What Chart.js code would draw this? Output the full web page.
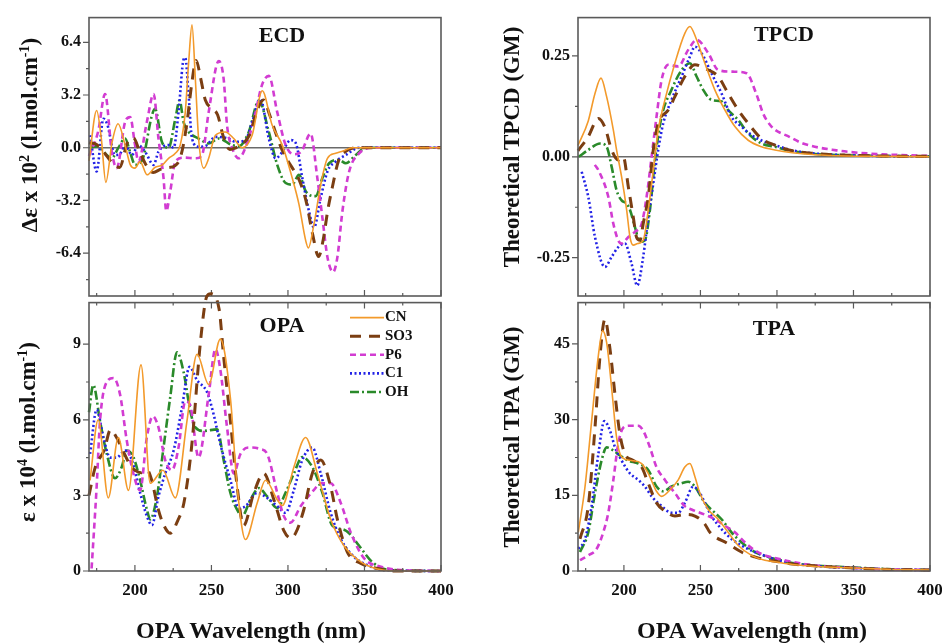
<!DOCTYPE html>
<html>
<head>
<meta charset="utf-8">
<script src="https://cdn.jsdelivr.net/npm/chart.js@4.4.0/dist/chart.umd.min.js"></script>
<style>
  body { margin: 0; background: #fff; width: 942px; height: 643px; position: relative; overflow: hidden; font-family: "Liberation Serif", "Times New Roman", serif; }
  canvas { position: absolute; }
  .t { position: absolute; font-weight: bold; white-space: nowrap; color: #111; transform: translate(-50%, -50%); }
  .yt { position: absolute; font-weight: bold; white-space: nowrap; color: #111; font-size: 23px; transform: translate(-50%, -50%) rotate(-90deg); }
  .yt sup { font-size: 14px; }
</style>
</head>
<body>
<canvas id="ecdChart" width="450" height="330" style="left:0;top:0"></canvas>
<canvas id="tpcdChart" width="500" height="330" style="left:470px;top:0"></canvas>
<canvas id="opaChart" width="470" height="358" style="left:0;top:285px"></canvas>
<canvas id="tpaChart" width="500" height="358" style="left:470px;top:285px"></canvas>

<div class="t" style="left:282px;top:35px;font-size:22px">ECD</div>
<div class="t" style="left:784px;top:34px;font-size:22px">TPCD</div>
<div class="t" style="left:282px;top:325px;font-size:22px">OPA</div>
<div class="t" style="left:774px;top:328px;font-size:22px">TPA</div>
<div class="yt" style="left:30px;top:135px">Δε x 10<sup>2</sup> (l.mol.cm<sup>-1</sup>)</div>
<div class="yt" style="left:28px;top:432px">ε x 10<sup>4</sup> (l.mol.cm<sup>-1</sup>)</div>
<div class="yt" style="left:512px;top:147px">Theoretical TPCD (GM)</div>
<div class="yt" style="left:512px;top:437px">Theoretical TPA (GM)</div>
<div class="t" style="left:251px;top:630px;font-size:24px">OPA Wavelength (nm)</div>
<div class="t" style="left:752px;top:630px;font-size:24px">OPA Wavelength (nm)</div>

<script>
// series names
const seriesNames = ["CN", "SO3", "P6", "C1", "OH"];

// x axis ticks (nm)
const xTickValues = [200, 250, 300, 350, 400];
const xMinorTicks = [175, 225, 275, 325, 375];

// y axis ticks
const ecdTicks = [-6.4, -3.2, 0, 3.2, 6.4];
const ecdMinor = [-8, -4.8, -1.6, 1.6, 4.8];
const tpcdTicks = [-0.25, 0, 0.25];
const tpcdMinor = [-0.125, 0.125];
const opaTicks = [0, 3, 6, 9];
const opaMinor = [1.5, 4.5, 7.5];
const tpaTicks = [0, 15, 30, 45];
const tpaMinor = [7.5, 22.5, 37.5];

// ECD (delta eps x 10^2)
const ecdCN_wl = [170,175,178,181,185,189,193.6,197,200,203.4,208,213,218,222,226.4,229.6,232.9,235.1,237.3,239.5,241.6,245,248.2,252.6,259,264.6,270,276.6,283.2,289.7,296.3,302.8,307.2,311.6,313.3,317,321.4,325.8,331.2,336,342,400];
const ecdCN = [-0.8,2.26,0.6,-2.1,0.3,1.46,0.16,-1.04,-1.24,-0.84,-1.64,-1.2,-1.04,-0.64,-0.34,0.16,2.16,5.16,7.46,4.16,0.56,-1.24,-0.64,0.76,0.96,0.56,0,0.76,3.46,1.36,0.16,-1.84,-3.44,-5.64,-6.08,-4.64,-2.24,-0.64,-0.34,-0.2,0,0];
const ecdSO3_wl = [170,175,180,185,190,195,199,203,207,212,217,222,226,230,234,237,240,243,246,250,254,258,262,266,270,275,280,284,288,292,296,300,304,308,312,316,320,323,326,329,333,338,345,400];
const ecdSO3 = [0.3,0.2,-0.3,-0.9,-1.2,0.3,0.6,-0.2,-1.0,-1.5,-1.3,-1.2,-1.1,-0.5,1.5,3.8,5.3,4.2,2.9,2.4,2.0,0.6,-0.1,0,0.2,0.8,2.3,2.9,2.0,0.9,-0.1,-0.8,-1.4,-2.1,-3.3,-5.2,-6.6,-5.6,-3.8,-2.4,-0.8,-0.2,0,0];
const ecdP6_wl = [170,176,180.5,184.9,188.1,193.6,196.9,200.1,202.3,207.8,212.2,215.4,218.7,220.5,223.1,226.4,232,240,244,248.2,254.8,258,260.2,263.5,267.9,272.2,278,283,287.5,293,298.5,304,309,314.8,319.2,322.5,325.8,329.5,332.3,335.6,340,346.5,355,400];
const ecdP6 = [-0.5,1.0,3.26,-0.24,-1.24,1.56,1.86,0.16,-0.84,1.56,3.26,0.56,-1.84,-3.84,-2.64,-0.84,-0.6,-0.64,-0.4,2.16,5.26,4.16,1.36,0,-0.64,0,1.8,3.8,4.36,2.16,0.16,-0.4,-0.2,0.86,-1.84,-4.24,-6.64,-7.54,-6.64,-3.84,-1.44,-0.34,0,0];
const ecdC1_wl = [170.7,175,179.4,182,187,190,193.6,198,202.3,207,212.2,215.4,222,225.3,228.5,231.8,232.9,235.1,237.3,241.6,246,252.6,261.1,265.7,272.2,276.6,282,287.5,291.9,296,301.7,305,309.4,313.7,317,321.4,325.8,331.2,337.8,346.5,400];
const ecdC1 = [0.76,-1.44,1.76,1.4,-0.44,-0.4,0.16,-0.44,0.16,-0.3,-1.04,-0.24,0.16,0,2.16,5.36,5.46,3.16,0.56,0.06,0.1,0.66,0.56,0.36,0.46,1.56,2.96,0.56,-0.64,-0.3,0.46,0.3,-1.84,-3.84,-4.84,-3.04,-1.44,-0.84,-0.44,0,0];
const ecdOH_wl = [170.7,176,180.5,184.9,189.2,193.6,197,200.1,205,211.1,213.2,217.6,222,226.4,229.2,231.8,235.1,241.6,248.2,254.8,263.5,268,274.4,281,287.5,293,298.5,302.8,307.2,311.6,318.1,322.5,326.9,333.4,337.8,344.3,350.9,400];
const ecdOH = [0,0.1,-0.34,-0.64,0,0.56,-0.3,-1.04,-0.7,1.96,2.36,0.36,0,1.76,2.86,1.56,0.96,0.56,0.26,0.56,0.16,0.1,0.96,2.86,0.96,-1.04,-2.14,-2.24,-1.64,-2.64,-2.94,-1.84,-0.94,-0.74,-0.94,-0.44,0,0];

// OPA (eps x 10^4)
const opaCN_wl = [170.7,176,182.6,189.2,195.8,204,210,218.3,226.4,234,240.6,248.2,255.8,262.4,266.8,272.2,279.9,285.3,293,296.3,303.9,311.5,319.2,327.9,336.6,347.6,358.5,370,400];
const opaCN = [3.6,6.0,2.9,5.3,3.2,8.18,3.48,4.0,2.9,5.95,8.6,7.4,9.2,6.86,3.35,1.25,2.7,3.6,2.83,2.6,4.13,5.3,3.87,2.05,1.0,0.36,0.08,0,0];
const opaSO3_wl = [170,174,180,184,188,192,196,200,204,208,211,215,219,223,228,232,237,243,247,249.5,255,258,262.4,266.8,271,277.7,284.2,290.8,297.3,302,305,310.4,315.9,321.4,327.9,332.3,338.8,347.6,358.5,370,400];
const opaSO3 = [3.0,4.1,4.8,5.6,5.3,4.8,4.3,4.0,3.9,4.0,3.6,2.5,1.8,1.5,2.0,2.7,4.9,9.2,10.9,11.0,10.4,8.5,5.95,3.35,1.8,3.1,3.87,2.83,1.6,1.3,1.5,2.44,3.87,4.4,3.35,2.05,0.75,0.3,0.1,0,0];
const opaP6_wl = [171.7,175,177.2,181.6,186,190.3,194.7,199,203.4,207.8,211.7,215.4,219.8,224.2,228.5,232.9,236,241.6,248.2,252.6,255.8,260.2,264.6,269,274.4,282,286.4,293,297.3,301.7,308.3,317,321.4,327.9,334.5,341,349.8,360.7,373.8,400];
const opaP6 = [0.1,3.35,5.95,7.5,7.66,7.0,5.17,3.87,3.2,5.3,6.14,5.7,4.4,4.0,4.9,6.73,6.6,4.5,7.0,8.8,8.0,5.7,3.87,4.65,4.9,4.84,4.65,3.1,2.18,1.92,2.57,3.22,3.48,3.48,2.7,1.53,0.5,0.17,0.04,0];
const opaC1_wl = [170.7,175,179.4,183.8,188,193.6,198,203.4,207.8,211.1,215.4,219.8,225.3,230.7,235.7,240.6,247.1,251.5,255.8,262.4,267.9,272.2,279.9,286.4,293,298.4,303.9,309.3,315.9,321.4,327.9,334.5,343.2,352,362.9,400];
const opaC1 = [4.65,6.4,5.3,4.5,4.5,4.78,4.4,3.1,2.18,1.82,2.96,3.87,4.78,6.47,8.1,7.57,7.1,6.2,5.04,3.6,2.5,2.57,3.1,2.9,2.57,2.31,3.22,4.39,4.9,3.87,2.31,1.27,0.56,0.23,0.04,0];
const opaOH_wl = [170,172.8,177.2,181.6,187,191.4,194.7,199,203.4,207.8,210,214.4,218.7,223,227.5,231.8,236.2,239.5,244.9,253.7,258,262.4,267.9,270,275.5,281,286.4,293,298.4,303.9,309.3,315.9,322.5,329,336,340,346.5,355,365,400];
const opaOH = [6.3,7.38,5.95,4.65,3.68,4.13,4.78,4.52,3.6,2.44,2.05,2.96,4.9,6.86,8.68,7.9,6.34,5.7,5.56,5.62,4.4,3.1,2.31,2.18,2.83,3.29,2.96,2.5,3.1,3.87,4.52,4.13,3.1,1.8,1.65,1.5,1.0,0.36,0.05,0];

// TPCD (GM)
const tpcdCN_wl = [170,176.7,181.1,185,188.7,193.1,195.2,198.5,201.8,204,206.1,209,212.6,215.9,219.2,222.4,226.8,233.3,239.8,243.1,247.5,252.9,259.4,266,272.5,281.2,289.9,298.6,310,325,345,370,400];
const tpcdCN = [0.028,0.089,0.157,0.195,0.149,0.066,0.017,-0.05,-0.132,-0.2,-0.219,-0.215,-0.207,-0.132,-0.033,0.066,0.141,0.232,0.306,0.323,0.29,0.232,0.166,0.116,0.075,0.041,0.025,0.017,0.01,0.005,0.002,0.001,0];
const tpcdSO3_wl = [170,176.7,183.3,187.6,192,196.3,199.6,202.9,206.1,208.3,210.5,212.6,215.9,219.2,222.4,229,233.3,239.8,246.4,252.9,261.6,268.1,274.7,281.2,289.9,298.6,310,325,345,370,400];
const tpcdSO3 = [0.015,0.05,0.095,0.073,0.017,-0.008,0,-0.075,-0.149,-0.2,-0.207,-0.166,-0.1,0.017,0.083,0.116,0.149,0.199,0.228,0.219,0.199,0.157,0.116,0.083,0.045,0.029,0.015,0.008,0.004,0.002,0.001];
const tpcdP6_wl = [181,183.3,189.8,193.1,196.3,198.5,202.9,207.2,211.6,214.8,218.1,221.3,224.6,229,235.5,242,247.5,255.1,261.6,271.4,280.1,286.6,291,296.4,308.4,317,338.9,360.6,400];
const tpcdP6 = [-0.02,-0.033,-0.099,-0.166,-0.207,-0.215,-0.199,-0.186,-0.166,-0.1,0,0.099,0.19,0.228,0.224,0.265,0.29,0.257,0.215,0.211,0.207,0.155,0.107,0.075,0.049,0.033,0.016,0.008,0.002];
const tpcdC1_wl = [172.4,176.7,181.1,187.6,192,196.3,200.7,205,208.7,212.6,215.9,219.2,222.4,225.7,231.1,237.7,243.1,246.4,250.7,257.2,263.8,270.3,276.8,283.4,292.1,298.6,310,325,345,370,400];
const tpcdC1 = [-0.037,-0.099,-0.199,-0.273,-0.248,-0.224,-0.215,-0.265,-0.319,-0.248,-0.149,-0.066,0.017,0.083,0.141,0.199,0.248,0.273,0.257,0.207,0.157,0.099,0.075,0.054,0.037,0.029,0.016,0.008,0.004,0.002,0.001];
const tpcdOH_wl = [170.5,176.7,184.4,188.7,192,195.2,198.5,201.8,204,207.2,210.5,213.7,217,220.3,224.6,231.1,237.7,243.1,247.5,251.8,257.2,263.8,268.1,274.7,281.2,289.9,298.6,310,325,345,370,400];
const tpcdOH = [0,0.017,0.033,0.025,-0.025,-0.083,-0.108,-0.116,-0.132,-0.174,-0.211,-0.207,-0.132,-0.008,0.099,0.166,0.215,0.232,0.199,0.166,0.141,0.137,0.116,0.091,0.058,0.033,0.025,0.014,0.007,0.004,0.002,0.001];

// TPA (GM)
const tpaCN_wl = [170.2,174.6,178.9,183.3,186.1,188.7,192,195.2,198.5,205,211.6,215.9,221.3,224.6,231.1,235.5,239.8,243.1,246.4,249.6,255.1,261.6,268.1,274.7,283.4,292.1,298.6,310,325,350,375,400];
const tpaCN = [7.66,16.75,29.7,42.7,47.6,45.3,36.2,26.5,22.6,21.9,21.3,19.35,15.8,14.8,16.4,18.05,20.6,21.3,18.7,15.45,12.2,10.26,7.66,5.06,3.1,2.14,1.82,1.3,0.9,0.6,0.3,0.2];
const tpaSO3_wl = [171.3,176.7,181.1,184.4,187.6,190.9,194.2,197.4,200.7,206.1,211.6,215.9,221.3,226.8,233.3,239.8,246.4,252.9,256.2,268.1,276.8,285.5,294.2,300,310,325,350,375,400];
const tpaSO3 = [6.36,12.86,28.4,42.7,49.9,44,34.9,27.1,23.2,21.9,20.6,17.4,13.5,11.9,10.9,11.2,10.9,9.3,7.66,5.4,3.77,2.8,2.14,1.9,1.4,1.0,0.6,0.3,0.2];
const tpaP6_wl = [171.3,176.7,182.2,186.5,189.8,193.1,196.3,199.6,203.9,209.4,212.6,217,221.3,226.8,233.3,239.8,244.2,249.6,255.1,259.4,266,272.5,279,285.5,292.1,298.6,310,325,350,375,400];
const tpaP6 = [2.14,3.1,4.4,7.66,11.56,18.05,25.2,28.4,28.8,28.8,27.8,24.5,20.6,18.05,15.45,12.86,12.2,11.56,10.9,10.26,8.96,7.66,5.7,4.1,3.1,2.6,1.8,1.1,0.6,0.3,0.2];
const tpaC1_wl = [170.2,174.6,178.9,183.3,187.2,190.9,194.2,198.5,203.9,209.4,213.7,218.1,224.6,231.1,235.5,239.8,245.3,249.6,252.9,257.2,263.8,270.3,276.8,285.5,294.2,300,310,325,350,375,400];
const tpaC1 = [4.4,6.36,12.86,23.2,29.7,27.8,24.5,21.9,19.35,18.05,16.75,14.8,12.86,11.56,11.56,13.5,16.75,15.45,13.5,10.9,8.3,6.36,5.06,3.77,2.8,2.2,1.5,1.0,0.6,0.3,0.2];
const tpaOH_wl = [171.3,176.7,181.1,185.4,188.7,193.1,197.4,202.9,209.4,215.9,221.3,225.7,231.1,237.7,242,246.4,252.9,259.4,263.8,270.3,276.8,285.5,294.2,300,310,325,350,375,400];
const tpaOH = [3.77,7.66,15.45,21.9,24.5,23.9,22.9,21.9,21.3,20,16.75,15.8,16.75,17.4,17.7,16.75,13.5,11.56,10.26,7.66,5.7,3.77,2.8,2.3,1.6,1.1,0.7,0.35,0.2];

// line styles per compound
const lineStyles = {
  CN: { borderColor: "#F39A2B", borderWidth: 1.6, borderDash: [] },
  SO3: { borderColor: "#7B3E12", borderWidth: 3, borderDash: [11, 8] },
  P6: { borderColor: "#D23CD2", borderWidth: 2.6, borderDash: [6, 4] },
  C1: { borderColor: "#2222E6", borderWidth: 2.6, borderDash: [2, 2.5] },
  OH: { borderColor: "#2A8A2A", borderWidth: 2.6, borderDash: [9, 3, 2, 3] },
};

const FONT = "Liberation Serif";

function pts(wl, vals) {
  return wl.map((x, i) => ({ x: x, y: vals[i] }));
}

function makeDatasets(list) {
  return list.map((s, i) => ({
    label: seriesNames[i],
    data: pts(s[0], s[1]),
    ...lineStyles[seriesNames[i]],
    pointRadius: 0,
    fill: false,
    cubicInterpolationMode: "monotone",
    clip: false,
  }));
}

// frame, inward x ticks, y ticks, zero line, legend
const panelDecor = {
  id: "panelDecor",
  beforeDatasetsDraw(chart, args, o) {
    if (!o.zeroLine) return;
    const { ctx, chartArea: a, scales } = chart;
    const y = scales.y.getPixelForValue(0);
    ctx.save();
    ctx.strokeStyle = "#6a6a6a";
    ctx.lineWidth = 1.5;
    ctx.beginPath();
    ctx.moveTo(a.left, y);
    ctx.lineTo(a.right, y);
    ctx.stroke();
    ctx.restore();
  },
  afterDraw(chart, args, o) {
    const { ctx, chartArea: a, scales } = chart;
    ctx.save();
    ctx.strokeStyle = "#5a5a5a";
    ctx.lineWidth = 1.2;
    ctx.beginPath();
    const xt = (vals, len) => vals.forEach((v) => {
      const x = scales.x.getPixelForValue(v);
      ctx.moveTo(x, a.bottom);
      ctx.lineTo(x, a.bottom - len);
      if (o.topTicks) {
        ctx.moveTo(x, a.top);
        ctx.lineTo(x, a.top + len);
      }
    });
    xt(xTickValues, 6);
    xt(xMinorTicks, 3);
    const yt = (vals, len) => vals.forEach((v) => {
      const y = scales.y.getPixelForValue(v);
      ctx.moveTo(a.left - len, y);
      ctx.lineTo(a.left, y);
    });
    yt(o.yMajor, 6);
    yt(o.yMinor, 3);
    ctx.stroke();
    ctx.lineWidth = 1.6;
    ctx.strokeRect(a.left, a.top, a.right - a.left, a.bottom - a.top);
    ctx.restore();

    if (o.legend) {
      ctx.save();
      ctx.font = "bold 15px " + FONT;
      ctx.textBaseline = "middle";
      ctx.fillStyle = "#111";
      chart.data.datasets.forEach((ds, i) => {
        const y = a.top + 15 + i * 18.6;
        ctx.strokeStyle = ds.borderColor;
        ctx.lineWidth = ds.borderWidth;
        ctx.setLineDash(ds.borderDash);
        ctx.beginPath();
        ctx.moveTo(350, y);
        ctx.lineTo(384, y);
        ctx.stroke();
        ctx.setLineDash([]);
        ctx.fillText(ds.label, 385, y);
      });
      ctx.restore();
    }
  },
};

function makePanel(id, list, cfg) {
  const yMajor = cfg.yMajor, yMinor = cfg.yMinor;
  return new Chart(document.getElementById(id), {
    type: "line",
    data: { datasets: makeDatasets(list) },
    plugins: [panelDecor],
    options: {
      responsive: false,
      animation: false,
      devicePixelRatio: 1,
      layout: { padding: cfg.padding },
      scales: {
        x: {
          type: "linear",
          min: 170,
          max: 400,
          display: cfg.showX,
          grid: { display: false, drawTicks: false },
          border: { display: false },
          afterBuildTicks: (axis) => { axis.ticks = xTickValues.map((v) => ({ value: v })); },
          afterFit: (axis) => { axis.height = cfg.showX ? 72 : 0; },
          ticks: {
            autoSkip: false,
            maxRotation: 0,
            padding: 9,
            color: "#111",
            font: { family: FONT, weight: "bold", size: 17 },
            callback: (v) => String(v),
          },
        },
        y: {
          min: cfg.yMin,
          max: cfg.yMax,
          grid: { display: false, drawTicks: false },
          border: { display: false },
          afterBuildTicks: (axis) => {
            axis.ticks = yMajor.concat(yMinor).sort((p, q) => p - q).map((v) => ({ value: v }));
          },
          afterFit: (axis) => { axis.width = cfg.yWidth; },
          ticks: {
            autoSkip: false,
            padding: 8,
            color: "#111",
            font: { family: FONT, weight: "bold", size: 16 },
            callback: (v) => (yMajor.includes(v) ? cfg.fmt(v) : ""),
          },
        },
      },
      plugins: {
        legend: { display: false },
        tooltip: { enabled: false },
        panelDecor: { zeroLine: cfg.zeroLine, topTicks: cfg.topTicks, yMajor: yMajor, yMinor: yMinor, legend: cfg.legend },
      },
    },
  });
}

makePanel("ecdChart",
  [[ecdCN_wl, ecdCN], [ecdSO3_wl, ecdSO3], [ecdP6_wl, ecdP6], [ecdC1_wl, ecdC1], [ecdOH_wl, ecdOH]],
  { padding: { top: 14, right: 9, bottom: 34, left: 0 }, yWidth: 89, yMin: -9.0, yMax: 7.9,
    yMajor: ecdTicks, yMinor: ecdMinor, fmt: (v) => v.toFixed(1), showX: false, zeroLine: true, topTicks: false, legend: false });

makePanel("tpcdChart",
  [[tpcdCN_wl, tpcdCN], [tpcdSO3_wl, tpcdSO3], [tpcdP6_wl, tpcdP6], [tpcdC1_wl, tpcdC1], [tpcdOH_wl, tpcdOH]],
  { padding: { top: 15, right: 40, bottom: 34, left: 0 }, yWidth: 108, yMin: -0.345, yMax: 0.345,
    yMajor: tpcdTicks, yMinor: tpcdMinor, fmt: (v) => v.toFixed(2), showX: false, zeroLine: true, topTicks: false, legend: false });

makePanel("opaChart",
  [[opaCN_wl, opaCN], [opaSO3_wl, opaSO3], [opaP6_wl, opaP6], [opaC1_wl, opaC1], [opaOH_wl, opaOH]],
  { padding: { top: 12, right: 29, bottom: 0, left: 0 }, yWidth: 89, yMin: 0, yMax: 10.65,
    yMajor: opaTicks, yMinor: opaMinor, fmt: (v) => String(v), showX: true, zeroLine: false, topTicks: true, legend: true });

makePanel("tpaChart",
  [[tpaCN_wl, tpaCN], [tpaSO3_wl, tpaSO3], [tpaP6_wl, tpaP6], [tpaC1_wl, tpaC1], [tpaOH_wl, tpaOH]],
  { padding: { top: 12, right: 40, bottom: 0, left: 0 }, yWidth: 108, yMin: 0, yMax: 53.2,
    yMajor: tpaTicks, yMinor: tpaMinor, fmt: (v) => String(v), showX: true, zeroLine: false, topTicks: true, legend: false });
</script>
</body>
</html>
